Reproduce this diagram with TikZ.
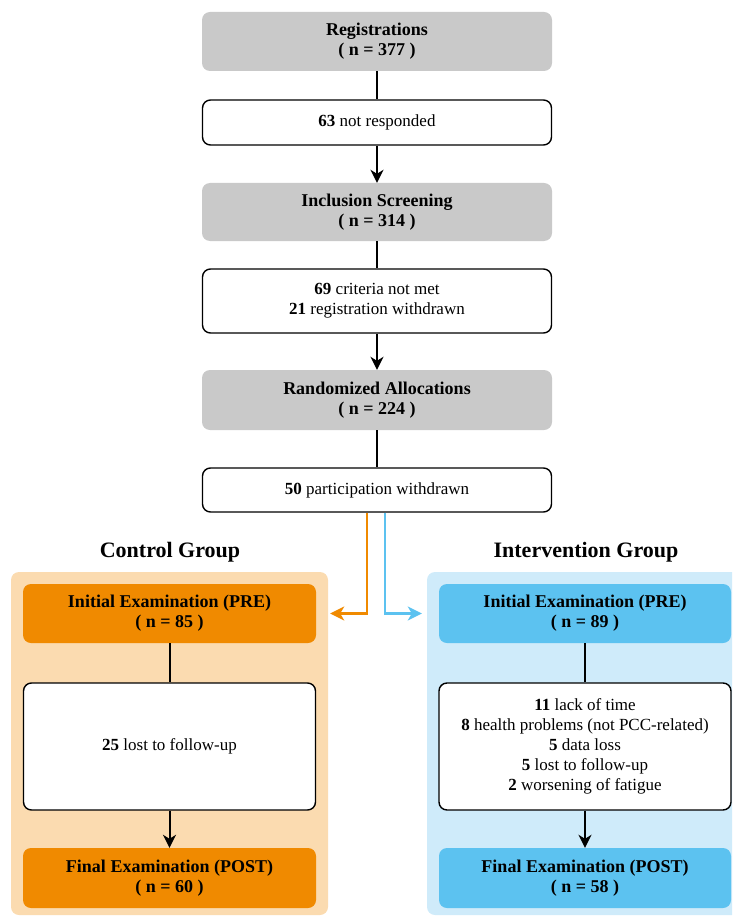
\documentclass[tikz,border=0pt]{standalone}
\usepackage{fontspec}
\setmainfont{Liberation Serif}
\usetikzlibrary{arrows.meta}

\definecolor{boxgray}{HTML}{C9C9C9}
\definecolor{ctlorange}{HTML}{F08A00}
\definecolor{ctlpanel}{HTML}{FBDBB0}
\definecolor{intblue}{HTML}{5CC2F0}
\definecolor{intpanel}{HTML}{CFEBFA}

\tikzset{
  stagebox/.style={rounded corners=8pt, align=center, minimum width=350pt,
    minimum height=59pt, font=\fontsize{18}{20}\selectfont\bfseries},
  notebox/.style={draw, line width=1.4pt, fill=white, rounded corners=8pt,
    align=center, minimum width=349pt, font=\fontsize{17}{20}\selectfont},
  armbox/.style={stagebox, minimum width=293pt},
  armnote/.style={notebox, minimum width=292pt, minimum height=127pt},
  flow/.style={line width=2pt, -{Stealth[length=13pt,width=13pt,inset=4pt]}},
  split/.style={line width=2.6pt, -{Stealth[length=14pt,width=14pt,inset=4pt]}},
  link/.style={line width=2pt},
  grouptitle/.style={font=\fontsize{22}{24}\selectfont\bfseries}
}

\begin{document}
\begin{tikzpicture}[x=1pt,y=-1pt]
  \useasboundingbox (0,0) rectangle (732,917);
  \clip (0,0) rectangle (732,917);

  % main column
  \node[stagebox, fill=boxgray] (reg) at (377,41.5) {Registrations\\( n = 377 )};
  \node[notebox, minimum height=45pt] (noresp) at (377,122.5) {\textbf{63} not responded};
  \node[stagebox, fill=boxgray, minimum height=58pt] (incl) at (377,212) {Inclusion Screening\\( n = 314 )};
  \node[notebox, minimum height=64pt] (excl) at (377,301) {\textbf{69} criteria not met\\\textbf{21} registration withdrawn};
  \node[stagebox, fill=boxgray, minimum height=60pt] (rand) at (377,400) {Randomized Allocations\\( n = 224 )};
  \node[notebox, minimum height=44pt] (wdraw) at (377,490) {\textbf{50} participation withdrawn};

  \draw[link] (reg) -- (noresp);
  \draw[flow] (noresp) -- (incl);
  \draw[link] (incl) -- (excl);
  \draw[flow] (excl) -- (rand);
  \draw[link] (rand) -- (wdraw);

  % group panels
  \fill[ctlpanel, rounded corners=8pt] (11,572) rectangle (328,915);
  \fill[intpanel, rounded corners=8pt] (427,572) rectangle (750,915);
  \node[grouptitle] (ctltitle) at (170,552) {Control Group};
  \node[grouptitle] (inttitle) at (586,552) {Intervention Group};

  % control arm
  \node[armbox, fill=ctlorange] (ctlpre) at (169.5,613.5) {Initial Examination (PRE)\\( n = 85 )};
  \node[armnote] (ctlloss) at (169.5,746.5) {\textbf{25} lost to follow-up};
  \node[armbox, fill=ctlorange, minimum height=60pt] (ctlpost) at (169.5,878) {Final Examination (POST)\\( n = 60 )};
  \draw[link] (ctlpre) -- (ctlloss);
  \draw[flow] (ctlloss) -- (ctlpost);

  % intervention arm
  \node[armbox, fill=intblue, minimum width=292pt] (intpre) at (585,613.5) {Initial Examination (PRE)\\( n = 89 )};
  \node[armnote] (intloss) at (585,746.5) {\textbf{11} lack of time\\\textbf{8} health problems (not PCC-related)\\\textbf{5} data loss\\\textbf{5} lost to follow-up\\\textbf{2} worsening of fatigue};
  \node[armbox, fill=intblue, minimum width=292pt, minimum height=60pt] (intpost) at (585,878) {Final Examination (POST)\\( n = 58 )};
  \draw[link] (intpre) -- (intloss);
  \draw[flow] (intloss) -- (intpost);

  % allocation
  \draw[split, ctlorange, shorten >=14pt] ([xshift=-10pt]wdraw.south) |- (ctlpre.east);
  \draw[split, intblue, shorten >=17pt] ([xshift=8pt]wdraw.south) |- (intpre.west);
\end{tikzpicture}
\end{document}
